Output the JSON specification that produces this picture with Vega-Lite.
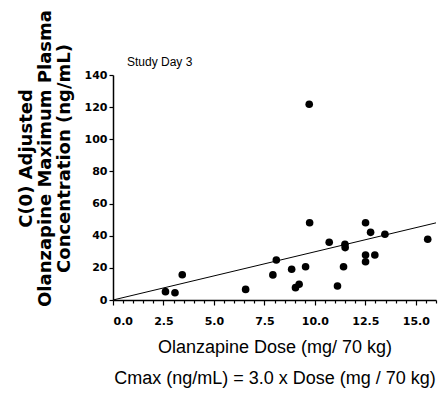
{
  "$schema": "https://vega.github.io/schema/vega-lite/v6.json",
  "width": 323,
  "height": 225,
  "autosize": {"type": "none"},
  "padding": {"left": 113, "top": 75, "right": 2, "bottom": 94},
  "background": "white",
  "config": {
    "view": {"stroke": null},
    "axis": {"grid": false, "domainColor": "black", "tickColor": "black", "labelColor": "black", "titleColor": "black"}
  },
  "title": {"text": "Study Day 3", "anchor": "start", "frame": "group", "dx": 14, "offset": -59, "font": "Liberation Sans", "fontSize": 12, "fontWeight": "normal", "color": "black"},
  "datasets": {
    "points": [
      {"dose": 2.6, "cmax": 5.2},
      {"dose": 3.07, "cmax": 4.5},
      {"dose": 3.43, "cmax": 15.7},
      {"dose": 6.57, "cmax": 6.6},
      {"dose": 7.92, "cmax": 15.6},
      {"dose": 8.09, "cmax": 24.9},
      {"dose": 8.85, "cmax": 19.1},
      {"dose": 9.04, "cmax": 7.7},
      {"dose": 9.22, "cmax": 9.8},
      {"dose": 9.54, "cmax": 20.7},
      {"dose": 9.72, "cmax": 121.8},
      {"dose": 9.74, "cmax": 48.1},
      {"dose": 10.71, "cmax": 35.9},
      {"dose": 11.12, "cmax": 8.7},
      {"dose": 11.42, "cmax": 20.7},
      {"dose": 11.49, "cmax": 34.7},
      {"dose": 11.5, "cmax": 32.6},
      {"dose": 12.51, "cmax": 48.1},
      {"dose": 12.76, "cmax": 42.1},
      {"dose": 12.51, "cmax": 28.0},
      {"dose": 12.51, "cmax": 23.8},
      {"dose": 12.97, "cmax": 28.0},
      {"dose": 13.47, "cmax": 40.9},
      {"dose": 15.59, "cmax": 37.8}
    ],
    "fit": [
      {"dose": 0, "cmax": 0},
      {"dose": 16, "cmax": 48}
    ]
  },
  "layer": [
    {
      "data": {"name": "fit"},
      "mark": {"type": "line", "color": "black", "strokeWidth": 1},
      "encoding": {
        "x": {"field": "dose", "type": "quantitative", "scale": {"domain": [0, 16], "nice": false},
          "axis": {"orient": "bottom", "values": [0.5, 1, 1.5, 2, 3, 3.5, 4, 4.5, 5.5, 6, 6.5, 7, 8, 8.5, 9, 9.5, 10.5, 11, 11.5, 12, 13, 13.5, 14, 14.5, 15.5, 16], "labels": false, "tickSize": 3, "tickWidth": 1.2, "domain": false, "title": null}},
        "y": {"field": "cmax", "type": "quantitative", "scale": {"domain": [0, 140], "nice": false}, "axis": null}
      }
    },
    {
      "data": {"name": "points"},
      "mark": {"type": "circle", "color": "black", "opacity": 1, "size": 58},
      "encoding": {
        "x": {"field": "dose", "type": "quantitative", "scale": {"domain": [0, 16], "nice": false},
          "axis": {"orient": "bottom", "values": [0, 2.5, 5, 7.5, 10, 12.5, 15], "format": ".1f", "labelFont": "DejaVu Sans", "labelFontWeight": "bold", "labelFontSize": 11, "labelPadding": 10, "tickSize": 5, "tickWidth": 1.2, "domainWidth": 1.5,
            "title": ["Olanzapine Dose (mg/ 70 kg)", "Cmax (ng/mL) = 3.0 x Dose (mg / 70 kg)"], "titleFont": "Liberation Sans", "titleFontSize": 18, "titleFontWeight": "normal", "titleLineHeight": 31, "titlePadding": 12}},
        "y": {"field": "cmax", "type": "quantitative", "scale": {"domain": [0, 140], "nice": false},
          "axis": {"orient": "left", "values": [0, 20, 40, 60, 80, 100, 120, 140], "labelFont": "DejaVu Sans", "labelFontWeight": "bold", "labelFontSize": 11, "tickSize": 4, "tickWidth": 1.2, "domainWidth": 1.5,
            "title": ["C(0) Adjusted", "Olanzapine Maximum Plasma", "Concentration (ng/mL)"], "titleFont": "DejaVu Sans", "titleFontWeight": "bold", "titleFontSize": 18, "titleLineHeight": 19, "titleAngle": -90, "titleBaseline": "top", "titleAlign": "center", "titleX": -96, "titleY": 83}}
      }
    }
  ],
  "resolve": {"axis": {"x": "independent", "y": "independent"}}
}
